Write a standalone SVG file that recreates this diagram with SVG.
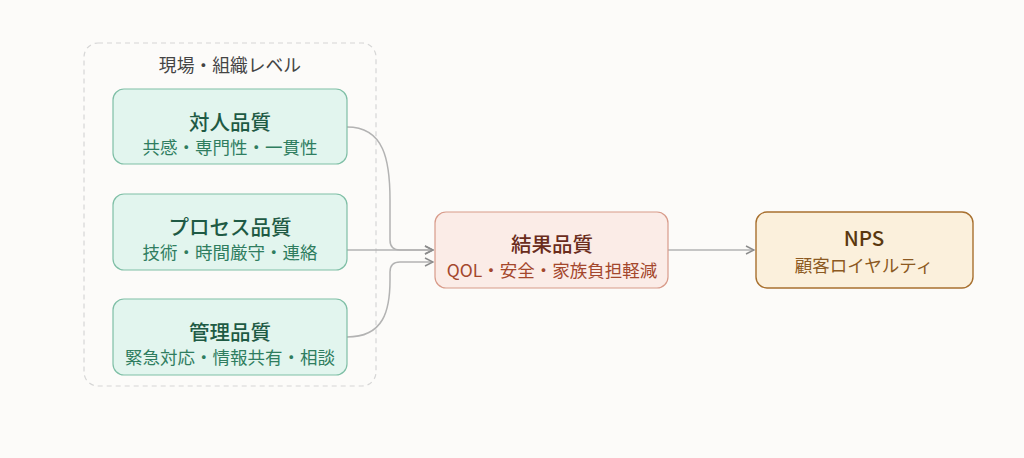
<svg xmlns="http://www.w3.org/2000/svg" width="1024" height="458" viewBox="0 0 1024 458">
<style>
.t{font-family:"Noto Sans CJK JP","Noto Sans",sans-serif;text-anchor:middle}
.h{font-size:20.5px;font-weight:500}
.s{font-size:17.5px}
.g rect{fill:#e2f5ee;stroke:#7fbfa6;stroke-width:1.2}
.g .h{fill:#1e5a44}
.g .s{fill:#2f7d5f}
.e{fill:none;stroke:#b3b3b3;stroke-width:1.5}
</style>
<defs>
<marker id="ar" viewBox="0 0 10 10" refX="9" refY="5" markerWidth="10" markerHeight="10" markerUnits="userSpaceOnUse" orient="auto">
<path d="M1,1 L9,5 L1,9" fill="none" stroke="#8c8c8c" stroke-width="1.4"/>
</marker>
</defs>
<rect width="1024" height="458" fill="#fcfbf9"/>
<g id="cluster">
<rect x="84" y="43" width="292" height="343" rx="14" fill="none" stroke="#d6d6d6" stroke-width="1.2" stroke-dasharray="5 4"/>
<text class="t" x="230" y="72" font-size="17.8px" fill="#444">現場・組織レベル</text>
</g>
<g id="connectors">
<path class="e" d="M347,127 C384,127 390,160 390,200 L390,240 Q390,250 400,250 L433,250" marker-end="url(#ar)"/>
<path class="e" d="M347,250 L433,250" marker-end="url(#ar)"/>
<path class="e" d="M347,337 C384,337 390,310 390,280 L390,272 Q390,262 400,262 L433,262" marker-end="url(#ar)"/>
<path class="e" d="M668,250 L754,250" marker-end="url(#ar)"/>
</g>
<g id="n1" class="g">
<rect x="113" y="89" width="234" height="75" rx="11"/>
<text class="t h" x="230" y="130">対人品質</text>
<text class="t s" x="230" y="154">共感・専門性・一貫性</text>
</g>
<g id="n2" class="g">
<rect x="113" y="194" width="234" height="76" rx="11"/>
<text class="t h" x="230" y="235">プロセス品質</text>
<text class="t s" x="230" y="259">技術・時間厳守・連絡</text>
</g>
<g id="n3" class="g">
<rect x="113" y="299" width="234" height="76" rx="11"/>
<text class="t h" x="230" y="340">管理品質</text>
<text class="t s" x="230" y="364">緊急対応・情報共有・相談</text>
</g>
<g id="result">
<rect x="435" y="212" width="233" height="76" rx="11" fill="#fbece7" stroke="#d89b8a" stroke-width="1.2"/>
<text class="t h" x="552" y="252" fill="#6a2c1c">結果品質</text>
<text class="t s" x="552" y="277" fill="#a4472c">QOL・安全・家族負担軽減</text>
</g>
<g id="nps">
<rect x="756" y="212" width="217" height="76" rx="11" fill="#fbf0dc" stroke="#a8702f" stroke-width="1.4"/>
<text class="t h" x="864" y="246" fill="#5a380f">NPS</text>
<text class="t s" x="864" y="272" fill="#8c5a22">顧客ロイヤルティ</text>
</g>
</svg>
